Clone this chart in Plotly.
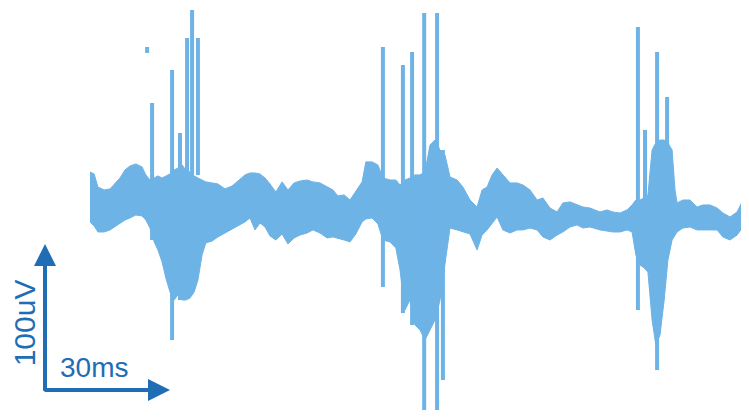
import plotly.graph_objects as go

# ---- signal envelope (time in ms, amplitude in uV) ----
t_ms = [0.0, 1.0, 1.9, 3.4, 4.8, 6.2, 7.2, 8.4, 9.6, 11.0, 12.5, 13.4, 14.4, 15.4, 16.3, 17.3,
        18.2, 19.2, 20.2, 21.1, 22.1, 23.0, 24.0, 25.0, 25.9, 26.9, 27.8, 29.3, 30.7, 32.4, 34.1,
        35.5, 37.2, 38.4, 39.6, 40.8, 42.0, 43.2, 44.6, 46.1, 47.5, 49.0, 50.4, 52.1, 53.5, 55.2,
        56.9, 58.3, 59.5, 61.0, 62.4, 63.8, 65.3, 66.2, 67.7, 69.1, 70.3, 72.0, 73.4, 74.4, 75.6,
        76.8, 78.0, 79.2, 80.4, 81.6, 82.8, 84.0, 85.2, 86.4, 88.1, 89.5, 91.2, 92.9, 94.1, 95.3,
        96.5, 97.7, 99.1, 100.8, 102.5, 103.9, 105.6, 107.3, 108.7, 110.4, 112.1, 113.5, 115.2,
        116.9, 118.3, 120.0, 122.4, 124.1, 125.5, 127.2, 128.9, 130.1, 131.0, 132.0, 133.0, 133.9,
        134.9, 135.8, 136.8, 137.8, 138.7, 139.7, 140.4, 140.9, 142.3, 144.0, 145.7, 147.1, 148.8,
        150.5, 151.9, 153.6, 155.3, 156.7, 158.2]
upper_uV = [22.6, 21.2, 12.3, 10.3, 11.0, 15.1, 18.5, 24.0, 26.7, 28.1, 26.0, 20.6, 17.1, 18.5,
            19.9, 18.5, 19.9, 21.2, 24.0, 25.3, 27.4, 24.0, 22.6, 19.9, 18.5, 17.1, 15.8, 15.1,
            14.4, 11.0, 13.0, 16.4, 20.6, 21.9, 21.9, 21.2, 18.5, 14.4, 8.9, 15.8, 10.3, 15.1,
            16.4, 17.1, 15.8, 15.1, 12.3, 10.3, 6.2, 6.9, 3.4, 9.6, 15.8, 29.5, 29.5, 27.4, 18.5,
            17.1, 17.1, 13.7, 17.1, 18.5, 20.6, 20.6, 22.6, 41.1, 44.5, 37.7, 34.2, 19.2, 17.1,
            12.3, 3.4, -1.4, 10.3, 12.3, 20.6, 25.3, 20.6, 15.1, 15.1, 13.7, 10.3, 3.4, 4.8, -2.1,
            -4.8, 1.4, 2.1, 0.0, -1.4, -2.1, -4.8, -3.4, -4.8, -5.5, -3.4, 0.0, 3.4, 3.4, 4.8, 6.9,
            37.7, 42.5, 44.5, 44.5, 42.5, 37.7, 10.3, 1.4, 3.4, 3.4, -1.4, 0.0, 0.0, -2.1, -5.5,
            -8.2, -4.8, 3.4, 6.9]
lower_uV = [-11.6, -14.4, -18.5, -18.5, -17.1, -14.4, -13.0, -10.3, -8.9, -6.9, -7.5, -10.3,
            -15.8, -25.3, -30.8, -39.0, -50.0, -59.6, -65.1, -61.6, -65.1, -65.1, -63.7, -59.6,
            -51.4, -34.2, -26.0, -24.7, -21.9, -19.2, -16.4, -14.4, -11.6, -8.9, -17.1, -12.3,
            -15.1, -21.2, -24.0, -19.9, -26.7, -22.6, -20.6, -19.2, -17.1, -19.2, -22.6, -21.9,
            -22.6, -24.0, -25.3, -19.9, -11.6, -9.6, -8.9, -13.0, -24.0, -25.3, -29.5, -44.5,
            -71.9, -65.1, -82.2, -85.6, -92.5, -85.6, -78.8, -65.1, -39.0, -15.8, -17.1, -18.5,
            -19.9, -30.8, -20.6, -17.1, -12.3, -8.2, -17.1, -19.2, -17.1, -17.1, -15.8, -17.1,
            -21.9, -24.0, -20.6, -18.5, -15.1, -13.7, -15.8, -15.1, -17.1, -17.8, -18.5, -18.5,
            -17.1, -18.5, -34.2, -41.1, -43.2, -45.9, -78.8, -95.9, -89.1, -65.1, -37.7, -24.0,
            -20.6, -18.5, -15.8, -15.1, -17.1, -17.1, -17.1, -17.1, -21.9, -24.0, -20.6, -15.1,
            -10.3]

# ---- spikes (time in ms, peak and trough in uV) ----
spike_t = [13.7, 14.9, 19.7, 21.6, 23.3, 24.5, 25.9, 70.3, 75.1, 77.3, 80.2, 83.3, 84.7,
           131.5, 133.2, 136.1, 138.5]
spike_hi = [108.2, 69.9, 92.5, 49.3, 114.4, 133.6, 114.4, 108.2, 95.9, 104.8, 131.5, 131.5,
            37.7, 121.9, 51.4, 104.8, 74.0]
spike_lo = [104.1, -24.0, -92.5, -65.1, -49.3, 20.6, 20.6, -56.2, -74.0, -82.2, -140.4,
            -140.4, -119.9, -71.9, -42.5, -113.0, -24.0]

# ---- scale bar ----
bar_origin_t = -10.8
bar_origin_uV = -126.7
bar_len_ms = 30
bar_len_uV = 100
bar_labels = ["100uV", "30ms"]

TRACE = "#6db3e6"
BAR = "#1e6db5"

fig = go.Figure()
fig.add_trace(go.Scatter(x=t_ms, y=upper_uV, mode="lines",
                         line=dict(color=TRACE, width=1), hoverinfo="skip"))
fig.add_trace(go.Scatter(x=t_ms, y=lower_uV, mode="lines", fill="tonexty",
                         fillcolor=TRACE, line=dict(color=TRACE, width=1), hoverinfo="skip"))

sx, sy = [], []
for t, hi, lo in zip(spike_t, spike_hi, spike_lo):
    sx += [t, t, None]
    sy += [hi, lo, None]
fig.add_trace(go.Scatter(x=sx, y=sy, mode="lines", line=dict(color=TRACE, width=4),
                         hoverinfo="skip"))

# scale bar arrows
fig.add_annotation(x=bar_origin_t, y=bar_origin_uV + bar_len_uV,
                   ax=bar_origin_t, ay=bar_origin_uV - 1.5, axref="x", ayref="y",
                   xref="x", yref="y", showarrow=True, arrowhead=2, arrowsize=1.1,
                   arrowwidth=4, arrowcolor=BAR, text="")
fig.add_annotation(x=bar_origin_t + bar_len_ms, y=bar_origin_uV,
                   ax=bar_origin_t - 0.5, ay=bar_origin_uV, axref="x", ayref="y",
                   xref="x", yref="y", showarrow=True, arrowhead=2, arrowsize=1.1,
                   arrowwidth=4, arrowcolor=BAR, text="")
fig.add_annotation(x=bar_origin_t - 4.9, y=bar_origin_uV + 46.0, xref="x", yref="y",
                   text=bar_labels[0], showarrow=False, textangle=-90, borderpad=0,
                   font=dict(family="Liberation Sans, Arial", size=30, color=BAR))
fig.add_annotation(x=bar_origin_t + 11.8, y=bar_origin_uV + 15.7, xref="x", yref="y",
                   text=bar_labels[1], showarrow=False, borderpad=0,
                   font=dict(family="Liberation Sans, Arial", size=28, color=BAR))

fig.update_layout(width=741, height=411, margin=dict(l=0, r=0, t=0, b=0),
                  paper_bgcolor="white", plot_bgcolor="white", showlegend=False)
fig.update_xaxes(range=[-19.68, 158.16], visible=False, fixedrange=True)
fig.update_yaxes(range=[-146.6, 134.9], visible=False, fixedrange=True)

fig.write_html("out.html")
